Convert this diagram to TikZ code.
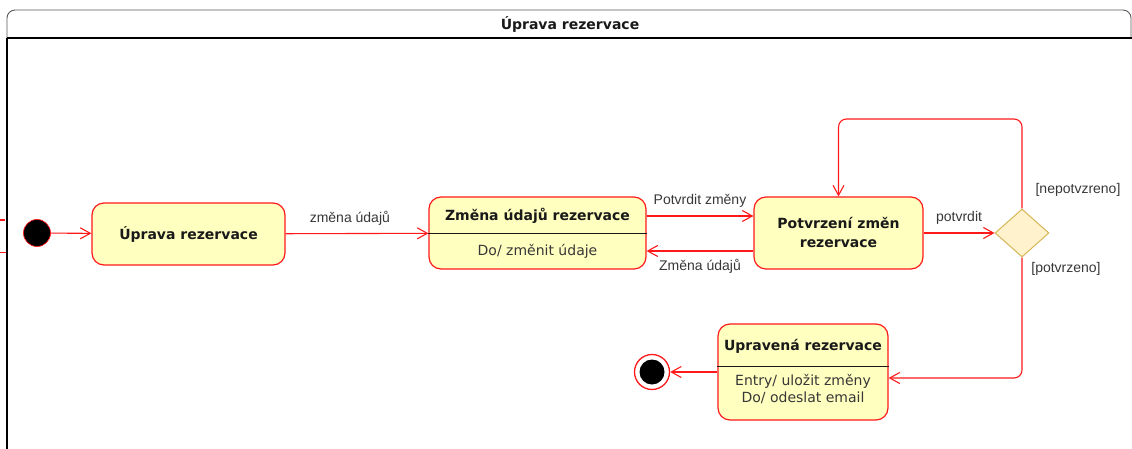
\documentclass[tikz,border=0pt]{standalone}
\usepackage{fontspec}
\setmainfont{DejaVu Sans}
\newfontfamily\edgefont{Liberation Sans}
\usetikzlibrary{shapes.geometric,arrows.meta,positioning}
\definecolor{umlred}{RGB}{255,25,25}
\definecolor{umlfill}{RGB}{255,255,192}
\definecolor{choicefill}{RGB}{255,242,204}
\definecolor{choiceline}{RGB}{214,182,86}
\definecolor{umltext}{RGB}{25,25,25}
\definecolor{edgetext}{RGB}{55,55,55}

\begin{document}
\begin{tikzpicture}[x=1pt,y=-1pt,auto,
  state/.style={rectangle,rounded corners=12pt,draw=umlred,fill=umlfill,line width=1.2pt,text=umltext,font=\fontsize{14}{19}\selectfont\bfseries,align=center},
  state title/.style={text=umltext,font=\fontsize{14}{17}\selectfont\bfseries,inner sep=0pt},
  state body/.style={text=edgetext,font=\fontsize{14}{17}\selectfont,align=center,inner sep=0pt},
  divider/.style={draw=umltext,line width=1pt},
  trans/.style={color=umlred,line width=1.1pt,-{Straight Barb[length=10pt,width=11pt]}},
  lbl/.style={text=edgetext,font=\edgefont\fontsize{14}{16}\selectfont,inner sep=8pt},
  guard/.style={text=edgetext,font=\edgefont\fontsize{14}{16}\selectfont},
  choice/.style={diamond,draw=choiceline,fill=choicefill,line width=1pt,minimum width=54pt,minimum height=48pt,inner sep=0pt},
  start node/.style={circle,draw=umlred,fill=black,line width=0.7pt,minimum size=27pt,inner sep=0pt},
  end node/.style={circle,draw=umlred,fill=white,line width=1.3pt,minimum size=35pt,inner sep=0pt}]

  \useasboundingbox (0,0) rectangle (1132,449);

  \draw[black!65,line width=0.9pt,rounded corners=8pt] (7,38) -- (7,10) -- (1131,10) -- (1131,38);
  \draw[black,line width=1.4pt] (7,38) -- (1132,38);
  \draw[black,line width=1.4pt] (7,38) -- (7,449);
  \node[state title] (frame) at (570,24) {Úprava rezervace};

  \coordinate (cutA) at (0,220);
  \coordinate (cutB) at (0,252);
  \draw[umlred,line width=1.5pt] (cutA) -- ++(5,0);
  \draw[umlred,line width=1pt] (cutB) -- ++(6,0);

  \node[start node] (init) at (37,233) {};
  \node[state,minimum width=193pt,minimum height=62pt] (s1) at (188.5,234) {Úprava rezervace};

  \node[state,minimum width=217pt,minimum height=72pt] (s2) at (537.5,233) {};
  \node[state title] (s2t) at (537.5,216) {Změna údajů rezervace};
  \node[state body] (s2b) at (537.5,251) {Do/ změnit údaje};
  \coordinate (s2cut) at (0,233);
  \draw[divider] (s2.west |- s2cut) -- (s2.east |- s2cut);

  \node[state,minimum width=169pt,minimum height=72pt] (s3) at (838.5,233) {Potvrzení změn\\rezervace};
  \node[choice] (d) at (1022,233) {};

  \node[state,minimum width=170pt,minimum height=96pt] (s4) at (803,372) {};
  \node[state title] (s4t) at (803,346) {Upravená rezervace};
  \node[state body] (s4b) at (803,389.5) {Entry/ uložit změny\\Do/ odeslat email};
  \coordinate (s4cut) at (0,366);
  \draw[divider] (s4.west |- s4cut) -- (s4.east |- s4cut);

  \node[end node] (fin) at (652,372) {};
  \node[circle,fill=black,minimum size=25pt,inner sep=0pt] (fincore) at (fin) {};

  \coordinate (up) at (700,216);
  \coordinate (dn) at (700,251);
  \coordinate (top) at (930,119);
  \coordinate (bot) at (950,378);

  \path[trans]
    (init) edge (s1)
    (s1) edge node[lbl,pos=0.45] {změna údajů} (s2)
    (s2.east |- up) edge node[lbl] {Potvrdit změny} (s3.west |- up)
    (s3.west |- dn) edge node[lbl] {Změna údajů} (s2.east |- dn)
    (s3) edge node[lbl] {potvrdit} (d)
    (s4) edge (fin);

  \draw[trans,rounded corners=8pt] (d.north) |- (s3.north |- top) -- (s3.north);
  \draw[trans,rounded corners=8pt] (d.south) |- (s4.east |- bot);

  \node[guard] (g1) at (1078,190) {[nepotvzreno]};
  \node[guard] (g2) at (1066,269) {[potvrzeno]};
\end{tikzpicture}
\end{document}
